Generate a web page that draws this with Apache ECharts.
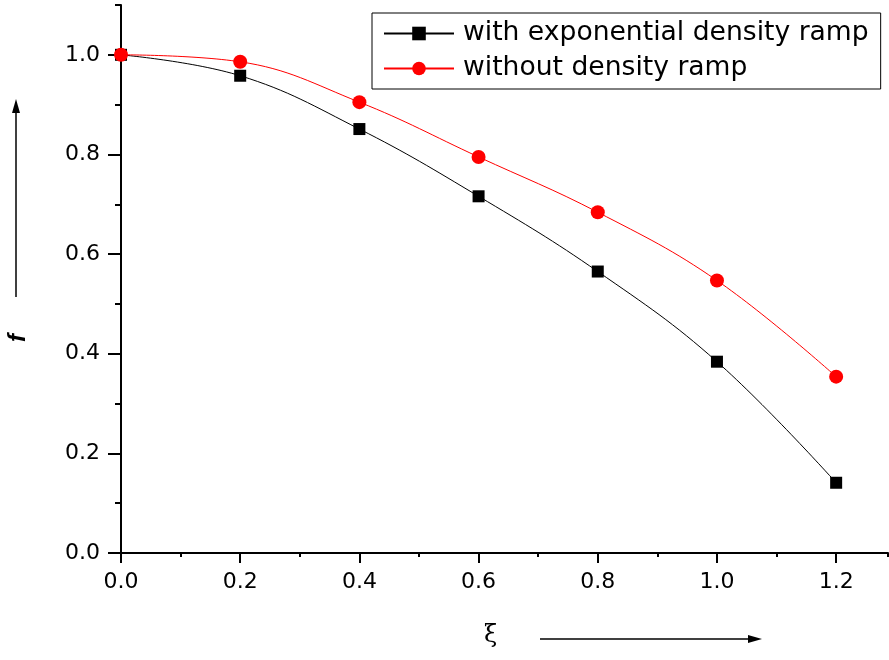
<!DOCTYPE html>
<html>
<head>
<meta charset="utf-8">
<script src="https://cdn.jsdelivr.net/npm/echarts@6/dist/echarts.min.js"></script>
<style>html,body{margin:0;padding:0;background:#fff}#c{width:889px;height:660px}</style>
</head>
<body>
<div id="c"></div>
<script>
var xValues = [0.0, 0.2, 0.4, 0.6, 0.8, 1.0, 1.2];
var withRamp = [1.0, 0.958, 0.851, 0.716, 0.565, 0.384, 0.141];
var withoutRamp = [1.0, 0.986, 0.905, 0.795, 0.684, 0.547, 0.354];
var seriesNames = ['with exponential density ramp', 'without density ramp'];
var xTitle = 'ξ';
var yTitle = 'f';

function pairs(xs, ys) { return xs.map(function (x, i) { return [x, ys[i]]; }); }
function fmt(v) {
  var r = Math.round(v * 10);
  return (r % 2 === 0 && Math.abs(v * 10 - r) < 1e-6) ? (r / 10).toFixed(1) : '';
}
var FONT = 'DejaVu Sans';
var XMAX = 1.287;
var chart = echarts.init(document.getElementById('c'), null, { renderer: 'canvas' });
chart.setOption({
  animation: false,
  backgroundColor: '#fff',
  grid: { left: 121, top: 5, bottom: 107, right: 1, containLabel: false },
  legend: {
    orient: 'vertical', left: 372, top: 13,
    padding: [7, 12, 7, 11],
    itemGap: 8, itemWidth: 70, itemHeight: 17,
    borderColor: '#000', borderWidth: 1,
    textStyle: { fontFamily: FONT, fontSize: 26.6, color: '#000', padding: [0, 0, 0, 4] },
    data: seriesNames
  },
  xAxis: [
    {
      type: 'value', min: 0, max: XMAX, interval: 0.2, position: 'bottom',
      axisLine: { show: true, onZero: false, lineStyle: { color: '#000', width: 2 } },
      axisTick: { show: true, inside: false, length: 10, lineStyle: { color: '#000', width: 2 } },
      axisLabel: { margin: 18, fontFamily: FONT, fontSize: 22, color: '#000', formatter: fmt, showMaxLabel: false },
      splitLine: { show: false }
    },
    {
      type: 'value', min: 0, max: XMAX, interval: 0.1, position: 'bottom',
      axisLine: { show: false },
      axisTick: { show: true, inside: false, length: 4, lineStyle: { color: '#000', width: 2 } },
      axisLabel: { show: false }, splitLine: { show: false }
    },
    {
      type: 'value', min: 0, max: XMAX, position: 'top',
      axisLine: { show: true, lineStyle: { color: '#000', width: 1 } },
      axisTick: { show: false }, axisLabel: { show: false }, splitLine: { show: false }
    }
  ],
  yAxis: [
    {
      type: 'value', min: 0, max: 1.1, interval: 0.2, position: 'left',
      axisLine: { show: true, onZero: false, lineStyle: { color: '#000', width: 2 } },
      axisTick: { show: true, inside: false, length: 13, lineStyle: { color: '#000', width: 2 } },
      axisLabel: { margin: 21, fontFamily: FONT, fontSize: 22, color: '#000', formatter: fmt, showMaxLabel: false },
      splitLine: { show: false }
    },
    {
      type: 'value', min: 0, max: 1.1, interval: 0.1, position: 'left',
      axisLine: { show: false },
      axisTick: { show: true, inside: false, length: 6, lineStyle: { color: '#000', width: 2 } },
      axisLabel: { show: false }, splitLine: { show: false }
    }
  ],
  series: [
    {
      name: seriesNames[0], type: 'line', smooth: 0.4,
      data: pairs(xValues, withRamp),
      symbol: 'rect', symbolSize: 12,
      itemStyle: { color: '#000' },
      lineStyle: { color: '#000', width: 1 },
      z: 3
    },
    {
      name: seriesNames[1], type: 'line', smooth: 0.4,
      data: pairs(xValues, withoutRamp),
      symbol: 'circle', symbolSize: 14,
      itemStyle: { color: '#ff0000' },
      lineStyle: { color: '#ff0000', width: 1 },
      z: 4
    }
  ],
  graphic: [
    { type: 'text', left: 484, top: 624, style: { text: xTitle, font: '24px "DejaVu Serif"', fill: '#000' } },
    { type: 'line', shape: { x1: 540, y1: 639, x2: 750, y2: 639 }, style: { stroke: '#000', lineWidth: 1.5 } },
    { type: 'polygon', shape: { points: [[762, 639], [748, 635], [748, 643]] }, style: { fill: '#000' } },
    { type: 'text', x: 18, y: 338, rotation: Math.PI / 2,
      style: { text: yTitle, font: 'italic bold 24px "Liberation Sans"', fill: '#000', align: 'center', verticalAlign: 'middle' } },
    { type: 'line', shape: { x1: 16, y1: 297, x2: 16, y2: 110 }, style: { stroke: '#000', lineWidth: 1.5 } },
    { type: 'polygon', shape: { points: [[16, 99], [12, 113], [20, 113]] }, style: { fill: '#000' } }
  ]
});
</script>
</body>
</html>
